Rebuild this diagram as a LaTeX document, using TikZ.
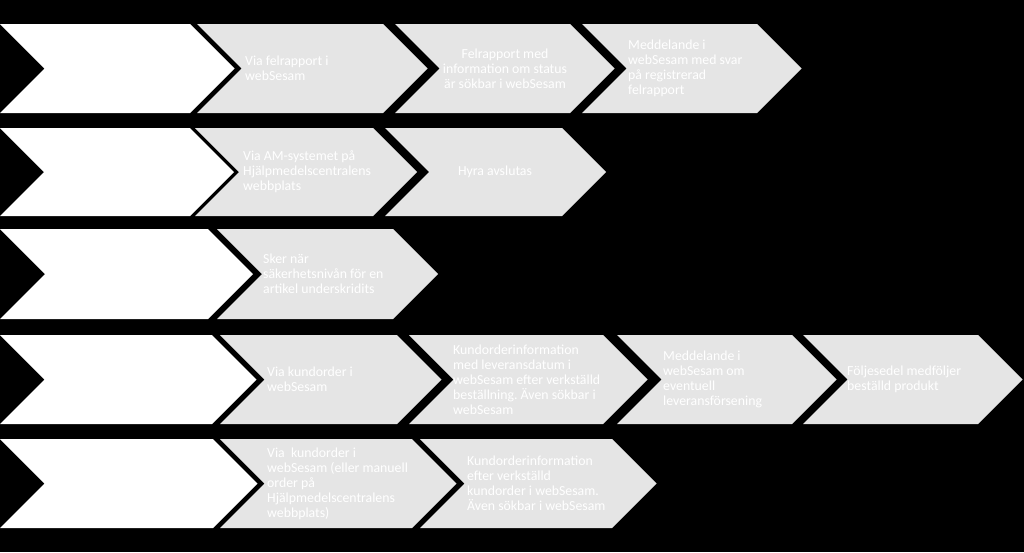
\documentclass[tikz,border=0pt]{standalone}
\usepackage{fontspec}
\setmainfont{Carlito}
\definecolor{boxgray}{RGB}{229,229,229}

\tikzset{
  firstbox/.style={fill=white},
  nextbox/.style={fill=boxgray},
  boxtext/.style={text=white, inner sep=0pt, anchor=west, align=left,
    font=\fontsize{13.8}{15}\selectfont\frenchspacing},
  boxtextc/.style={boxtext, anchor=center, align=center},
}

% chevron: style, left x, right x, top y, bottom y
\newcommand{\chevron}[5]{%
  \pgfmathsetmacro{\chm}{(#4+#5)/2}%
  \pgfmathsetmacro{\chd}{(#5-#4)/2}%
  \fill[#1] (#2,#4) -- (#3,#4) -- (#3+\chd,\chm) -- (#3,#5) -- (#2,#5)
    -- (#2+\chd,\chm) -- cycle;}

\begin{document}
\begin{tikzpicture}[x=1pt, y=-1pt]
    \fill[black] (0,0) rectangle (1024,552);
    \useasboundingbox (0,0) rectangle (1024,552);

    % Row 1: felrapport
    \chevron{firstbox}{0}{190}{24}{113}
    \chevron{nextbox}{197}{383}{24}{113}
    \chevron{nextbox}{395}{570}{24}{113}
    \chevron{nextbox}{582}{757}{24}{113}
    \node[boxtext] (r1a) at (245,68.5) {Via felrapport i\\webSesam};
    \node[boxtextc] (r1b) at (505,68.5) {Felrapport med\\information om status\\är sökbar i webSesam};
    \node[boxtext] (r1c) at (628,68.5) {Meddelande i\\webSesam med svar\\på registrerad\\felrapport};

    % Row 2: hyra
    \chevron{firstbox}{0}{190}{128}{216}
    \chevron{nextbox}{195}{373}{128}{216}
    \chevron{nextbox}{385}{562}{128}{216}
    \node[boxtext] (r2a) at (243,172) {Via AM-systemet på\\Hjälpmedelscentralens\\webbplats};
    \node[boxtextc] (r2b) at (495,172) {Hyra avslutas};

    % Row 3: säkerhetsnivå
    \chevron{firstbox}{0}{208}{229}{319}
    \chevron{nextbox}{217}{393}{229}{319}
    \node[boxtext] (r3a) at (263,274) {Sker när\\säkerhetsnivån för en\\artikel underskridits};

    % Row 4: kundorder
    \chevron{firstbox}{0}{212}{335}{424}
    \chevron{nextbox}{220}{397}{335}{424}
    \chevron{nextbox}{409}{603}{335}{424}
    \chevron{nextbox}{617}{792}{335}{424}
    \chevron{nextbox}{803}{978}{335}{424}
    \node[boxtext] (r4a) at (267,379.5) {Via kundorder i\\webSesam};
    \node[boxtext] (r4b) at (453,379.5) {Kundorderinformation\\med leveransdatum i\\webSesam efter verkställd\\beställning. Även sökbar i\\webSesam};
    \node[boxtext] (r4c) at (663,379.5) {Meddelande i\\webSesam om\\eventuell\\leveransförsening};
    \node[boxtext] (r4d) at (847,379.5) {Följesedel medföljer\\beställd produkt};

    % Row 5: kundorder / manuell order
    \chevron{firstbox}{0}{213}{439}{528}
    \chevron{nextbox}{220}{412}{439}{528}
    \chevron{nextbox}{420}{612}{439}{528}
    \node[boxtext] (r5a) at (267,483.5) {Via\ \ kundorder i\\webSesam (eller manuell\\order på\\Hjälpmedelscentralens\\webbplats)};
    \node[boxtext] (r5b) at (467,483.5) {Kundorderinformation\\efter verkställd\\kundorder i webSesam.\\Även sökbar i webSesam};
\end{tikzpicture}
\end{document}
